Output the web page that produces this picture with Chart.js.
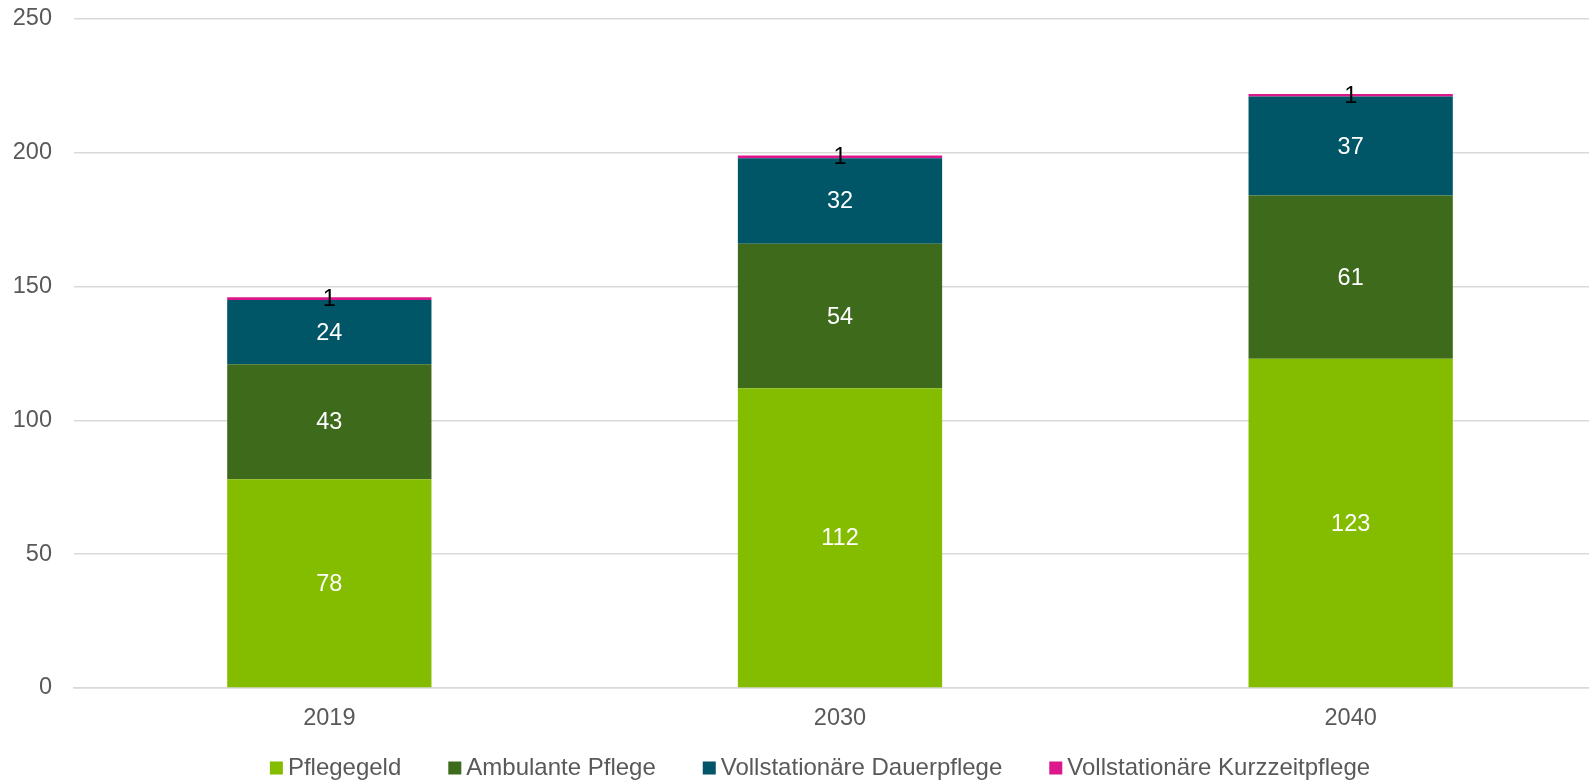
<!DOCTYPE html>
<html lang="de">
<head>
    <meta charset="UTF-8">
    <title>Pflege</title>
    <script src="https://cdn.jsdelivr.net/npm/chart.js"></script>
    <style>
        html, body { margin: 0; padding: 0; background: #fff; overflow: hidden; }
        /* Diagramm ist rechts etwas breiter als das Fenster (wie im Original beschnitten) */
        #wrap { width: 1606px; height: 780px; }
    </style>
</head>
<body>
    <div id="wrap"><canvas id="myChart"></canvas></div>

    <script>
        // Daten
        const jahre = ['2019', '2030', '2040'];
        const pflegegeld = [78, 112, 123];
        const ambulantePflege = [43, 54, 61];
        const dauerpflege = [24, 32, 37];
        const kurzzeitpflege = [1, 1, 1];
        const yTicks = [0, 50, 100, 150, 200, 250];

        const FONT = '"Liberation Sans", Arial, sans-serif';
        const FONT_SIZE = 23.5;

        // Werte in die Segmente schreiben
        const segmentLabels = {
            id: 'segmentLabels',
            afterDatasetsDraw(chart) {
                const ctx = chart.ctx;
                ctx.save();
                ctx.font = FONT_SIZE + 'px ' + FONT;
                ctx.textAlign = 'center';
                ctx.textBaseline = 'middle';
                chart.data.datasets.forEach((ds, i) => {
                    const meta = chart.getDatasetMeta(i);
                    meta.data.forEach((bar, j) => {
                        const mid = (bar.y + bar.base) / 2;
                        ctx.fillStyle = ds.labelColor;
                        ctx.fillText(String(ds.data[j]), bar.x, mid + 1);
                    });
                });
                ctx.restore();
            }
        };

        // Legende unten, enger als die eingebaute (Kästchen dicht am Text)
        const bottomLegend = {
            id: 'bottomLegend',
            afterDraw(chart) {
                const ctx = chart.ctx;
                const box = 13, gap = 5, itemGap = 47;
                const centerX = 820, y = 768;
                ctx.save();
                ctx.font = '24px ' + FONT;
                ctx.textBaseline = 'middle';
                const items = chart.data.datasets.map(ds => ({
                    text: ds.label,
                    color: ds.backgroundColor,
                    w: box + gap + ctx.measureText(ds.label).width
                }));
                const total = items.reduce((s, it) => s + it.w, 0) + itemGap * (items.length - 1);
                let x = centerX - total / 2;
                items.forEach(it => {
                    ctx.fillStyle = it.color;
                    ctx.fillRect(x, y - box / 2, box, box);
                    ctx.fillStyle = '#595959';
                    ctx.fillText(it.text, x + box + gap, y);
                    x += it.w + itemGap;
                });
                ctx.restore();
            }
        };

        const ctx = document.getElementById('myChart').getContext('2d');
        const myChart = new Chart(ctx, {
            type: 'bar',
            data: {
                labels: jahre,
                datasets: [{
                    label: 'Pflegegeld',
                    data: pflegegeld,
                    backgroundColor: '#84BD00',
                    labelColor: '#ffffff'
                }, {
                    label: 'Ambulante Pflege',
                    data: ambulantePflege,
                    backgroundColor: '#3D6A1B',
                    labelColor: '#ffffff'
                }, {
                    label: 'Vollstationäre Dauerpflege',
                    data: dauerpflege,
                    backgroundColor: '#005566',
                    labelColor: '#ffffff'
                }, {
                    label: 'Vollstationäre Kurzzeitpflege',
                    data: kurzzeitpflege,
                    backgroundColor: '#DC168B',
                    labelColor: '#000000'
                }]
            },
            options: {
                responsive: true,
                maintainAspectRatio: false,
                animation: false,
                categoryPercentage: 1,
                barPercentage: 0.4,
                layout: { padding: { top: 19, right: 0, left: 0, bottom: 50 } },
                plugins: {
                    tooltip: { enabled: false },
                    legend: { display: false }
                },
                scales: {
                    x: {
                        stacked: true,
                        afterFit(scale) { scale.height = 42; },
                        grid: { display: false },
                        border: { color: '#d9d9d9', width: 1.5 },
                        ticks: {
                            color: '#595959',
                            padding: 8,
                            font: { family: FONT, size: FONT_SIZE }
                        }
                    },
                    y: {
                        stacked: true,
                        min: 0,
                        max: 250,
                        afterFit(scale) {
                            scale.width = 74;
                            scale.paddingTop = 0;
                            scale.paddingBottom = 0;
                        },
                        afterBuildTicks(scale) { scale.ticks = yTicks.map(v => ({ value: v })); },
                        grid: { color: '#d9d9d9', lineWidth: 1.5, drawTicks: false },
                        border: { display: false },
                        ticks: {
                            color: '#595959',
                            padding: 22,
                            font: { family: FONT, size: FONT_SIZE }
                        }
                    }
                }
            },
            plugins: [segmentLabels, bottomLegend]
        });
    </script>
</body>
</html>
